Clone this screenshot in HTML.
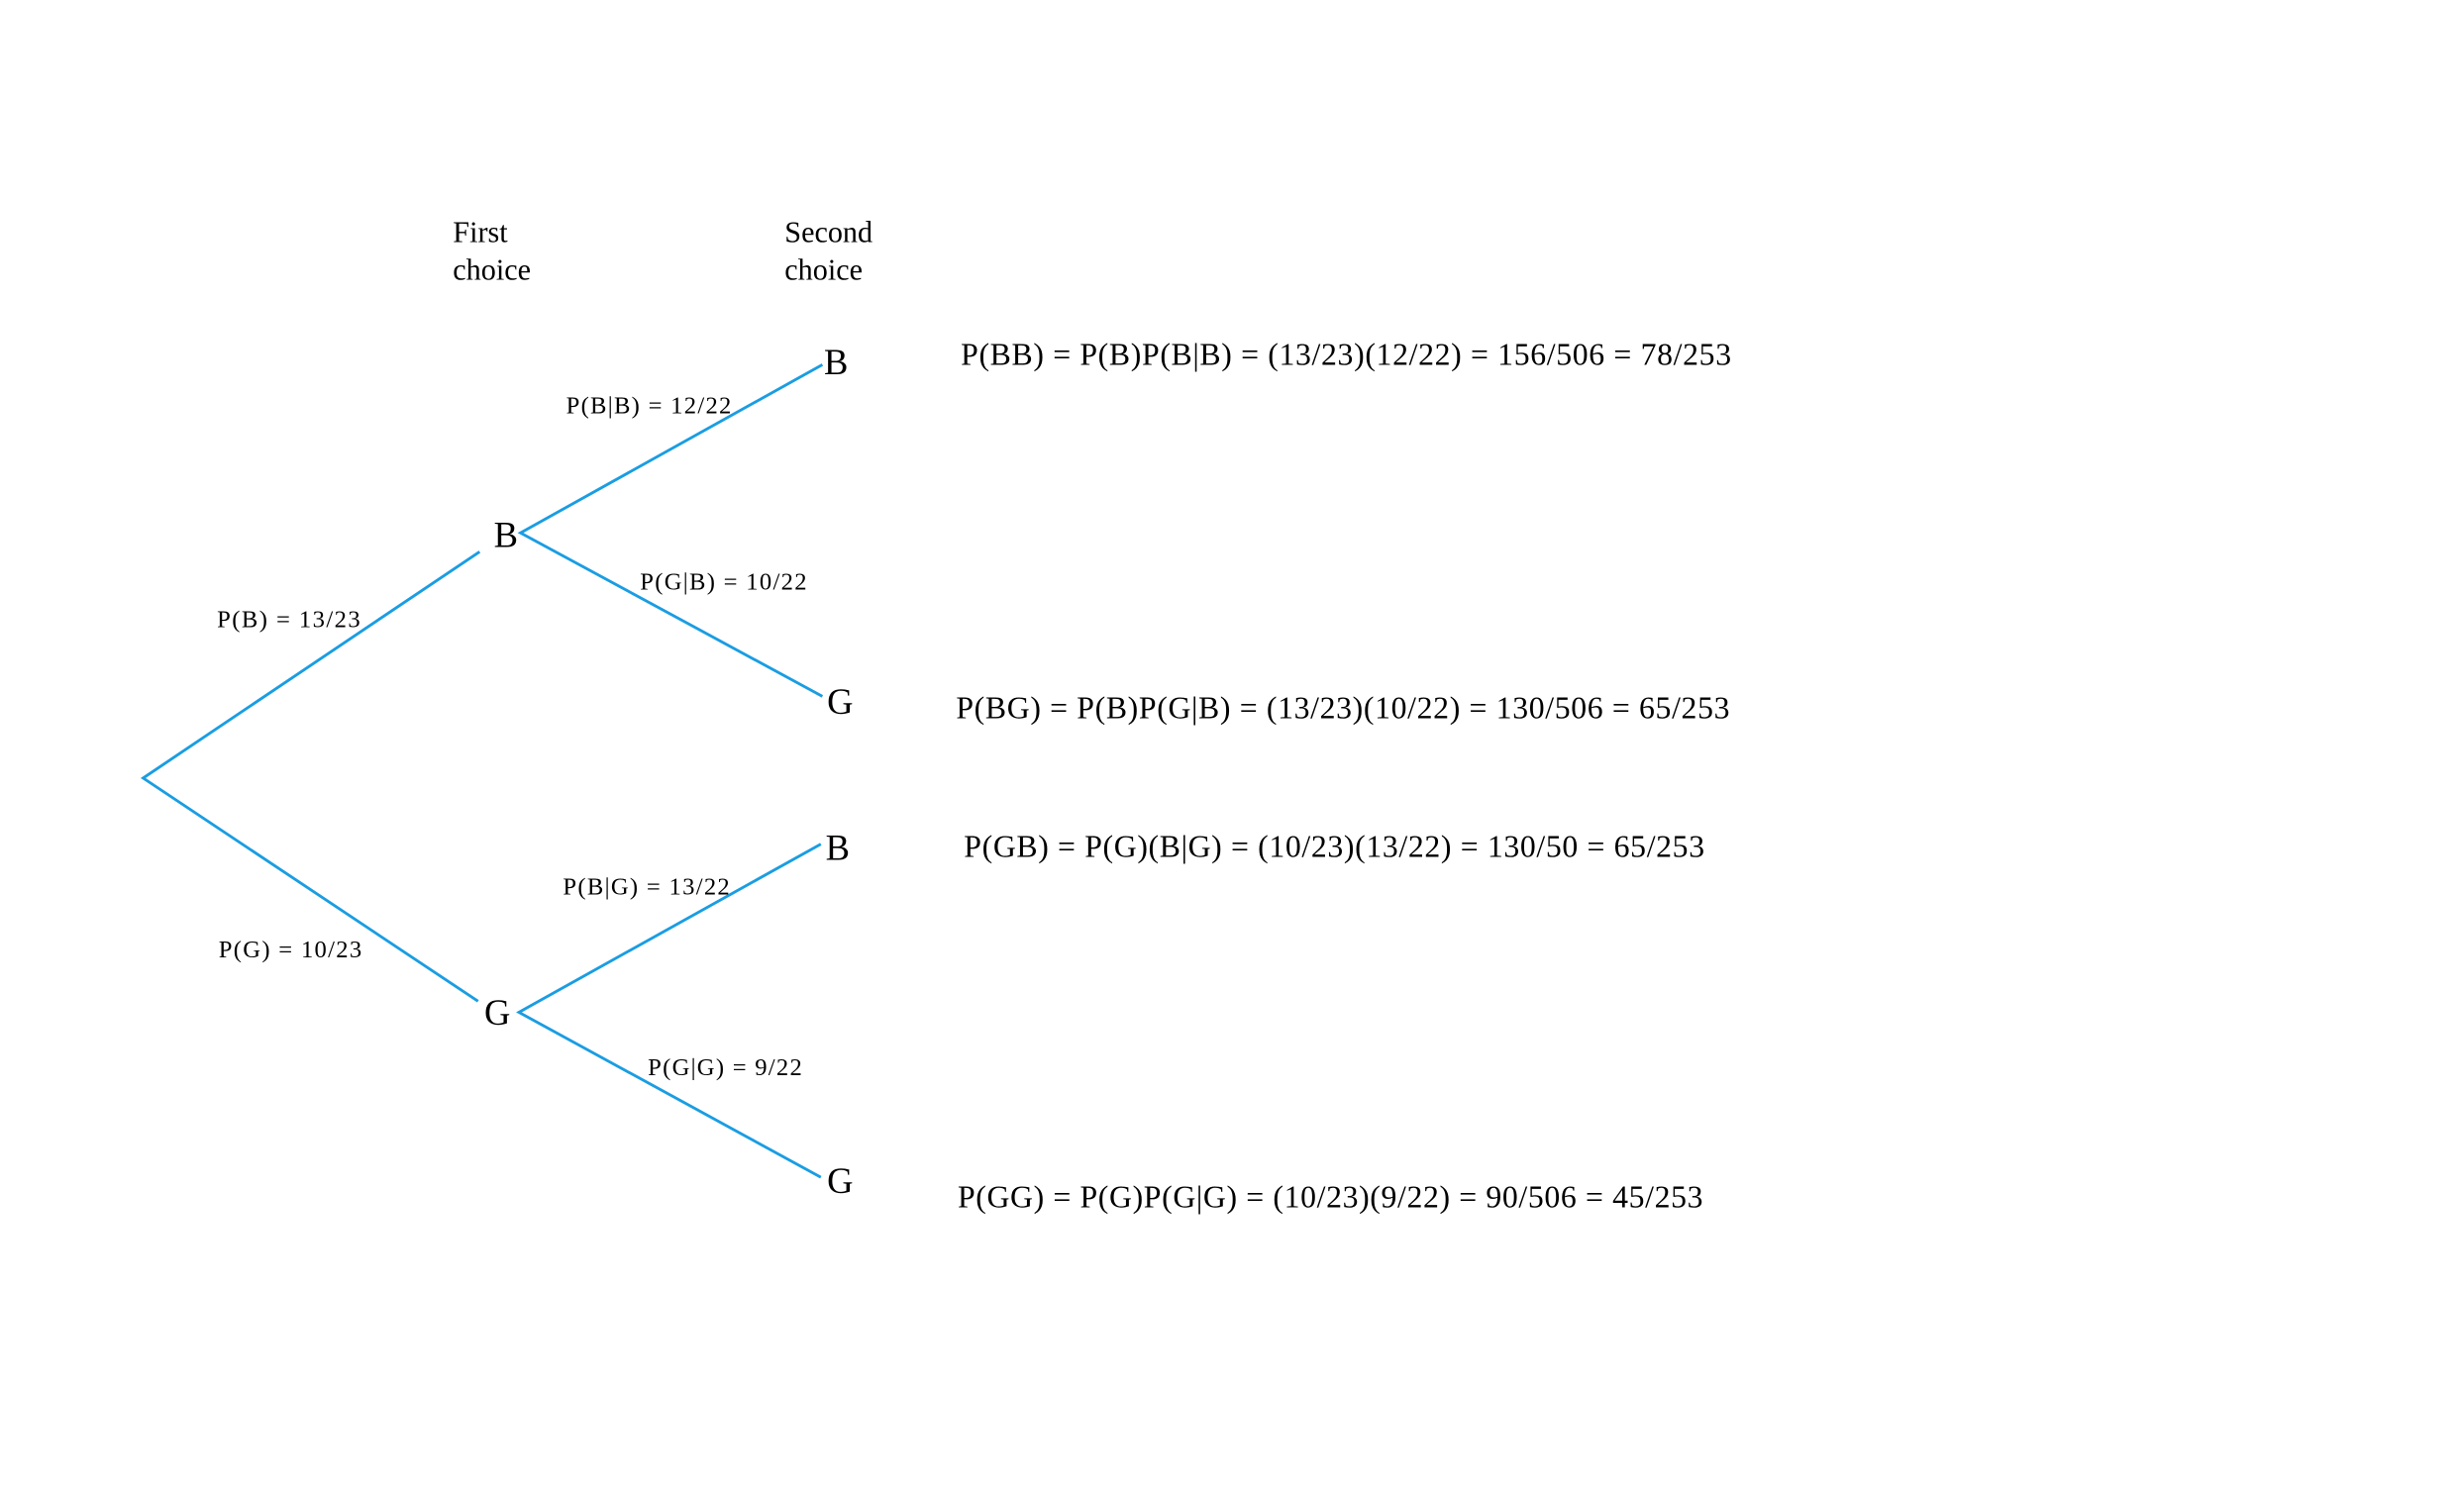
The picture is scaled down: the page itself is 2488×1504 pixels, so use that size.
<!DOCTYPE html>
<html><head><meta charset="utf-8"><style>html,body{margin:0;padding:0;background:#fff;}svg{display:block}</style></head>
<body>
<svg width="2488" height="1504" viewBox="0 0 1567 947.3" xmlns="http://www.w3.org/2000/svg" font-family="'Liberation Serif', serif" fill="#000">
<g stroke="#1a9de2" stroke-width="1.8" fill="none">
<polyline points="305,351 91,495 304,637"/>
<polyline points="523,232 331,339 523,443"/>
<polyline points="522,537 330,644 522,749"/>
</g>
<g font-size="19">
<text x="288" y="154">First</text><text x="288" y="178">choice</text>
<text x="499" y="154">Second</text><text x="499" y="178">choice</text>
</g>
<g font-size="23">
<text x="314" y="348">B</text>
<text x="524" y="238">B</text>
<text x="526" y="454">G</text>
<text x="308" y="652">G</text>
<text x="525" y="547">B</text>
<text x="526" y="759">G</text>
</g>
<g font-size="15.5">
<text x="360" y="263" textLength="105">P(B|B) = 12/22</text>
<text x="407" y="375" textLength="106">P(G|B) = 10/22</text>
<text x="138" y="399" textLength="91">P(B) = 13/23</text>
<text x="139" y="609" textLength="91">P(G) = 10/23</text>
<text x="358" y="569" textLength="106">P(B|G) = 13/22</text>
<text x="412" y="684" textLength="98">P(G|G) = 9/22</text>
</g>
<g font-size="20">
<text x="611" y="232" textLength="490">P(BB) = P(B)P(B|B) = (13/23)(12/22) = 156/506 = 78/253</text>
<text x="608" y="457" textLength="492">P(BG) = P(B)P(G|B) = (13/23)(10/22) = 130/506 = 65/253</text>
<text x="613" y="545" textLength="471">P(GB) = P(G)(B|G) = (10/23)(13/22) = 130/50 = 65/253</text>
<text x="609" y="768" textLength="474">P(GG) = P(G)P(G|G) = (10/23)(9/22) = 90/506 = 45/253</text>
</g>
</svg>
</body></html>
